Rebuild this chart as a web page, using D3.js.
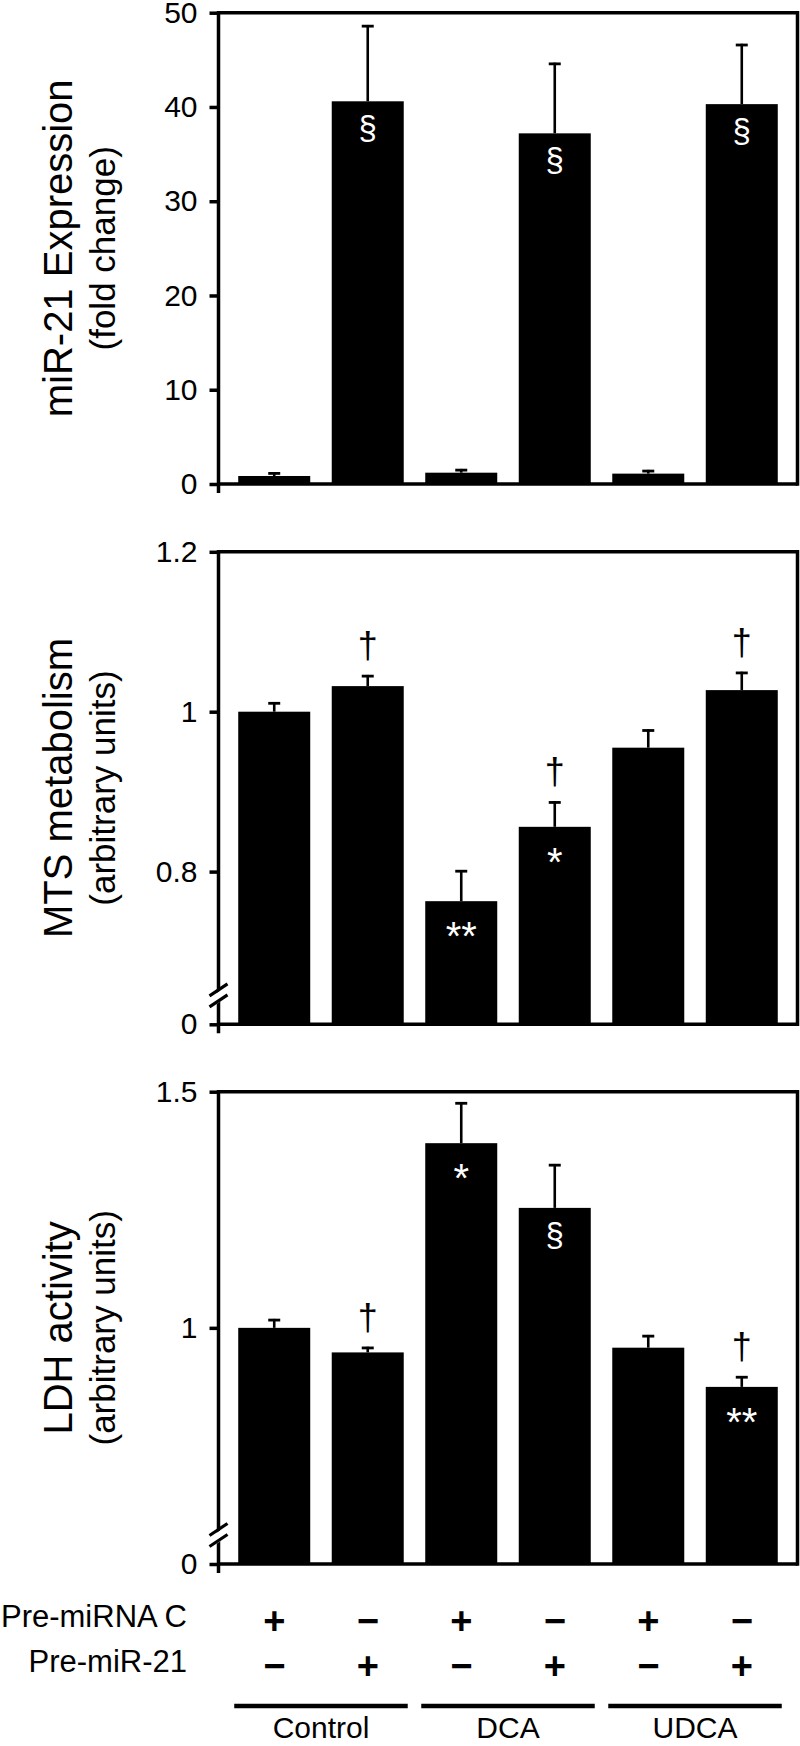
<!DOCTYPE html>
<html>
<head>
<meta charset="utf-8">
<script src="https://cdn.jsdelivr.net/npm/d3@7"></script>
<style>
  html, body { margin: 0; padding: 0; background: #fff; }
  svg { display: block; }
  text { font-family: "Liberation Sans", Arial, Helvetica, sans-serif; }
</style>
</head>
<body>
<svg id="chart" width="800" height="1746"></svg>
<script>
// ---------- data ----------
const categories = ["Control / pre-miRNA C", "Control / pre-miR-21", "DCA / pre-miRNA C", "DCA / pre-miR-21", "UDCA / pre-miRNA C", "UDCA / pre-miR-21"];
const groups = ["Control", "DCA", "UDCA"];
const preMiRNAC = ["+", "\u2212", "+", "\u2212", "+", "\u2212"];
const preMiR21 = ["\u2212", "+", "\u2212", "+", "\u2212", "+"];

const mirValues = [0.85, 40.6, 1.2, 37.2, 1.1, 40.3];
const mirErrors = [0.4, 8.1, 0.4, 7.5, 0.4, 6.4];
const mirInside = ["", "§", "", "§", "", "§"];
const mirAbove = ["", "", "", "", "", ""];
const mirTicks = [0, 10, 20, 30, 40, 50];

const mtsValues = [1.000, 1.032, 0.763, 0.856, 0.955, 1.027];
const mtsErrors = [0.012, 0.014, 0.039, 0.032, 0.023, 0.023];
const mtsInside = ["", "", "**", "*", "", ""];
const mtsAbove = ["", "†", "", "†", "", "†"];
const mtsTicks = [0, 0.8, 1, 1.2];

const ldhValues = [1.000, 0.948, 1.391, 1.254, 0.958, 0.875];
const ldhErrors = [0.019, 0.012, 0.087, 0.093, 0.027, 0.023];
const ldhInside = ["", "", "*", "§", "", "**"];
const ldhAbove = ["", "†", "", "", "", "†"];
const ldhTicks = [0, 1, 1.5];

// ---------- layout ----------
const svg = d3.select("#chart");
const xLeft = 218.5, xRight = 797.5;

const x = d3.scaleBand()
  .domain(categories)
  .range([xLeft, xRight])
  .paddingInner(0.23)
  .paddingOuter(0.211);

// broken axes: the bottom of the axis (labelled "0") stands for the floor value
const panels = [
  { title: "miR-21 Expression", sub: "(fold change)", values: mirValues, errors: mirErrors,
    inside: mirInside, above: mirAbove, ticks: mirTicks, broken: false, floor: 0,
    y: d3.scaleLinear().domain([0, 50]).range([484, 12.7]) },
  { title: "MTS metabolism", sub: "(arbitrary units)", values: mtsValues, errors: mtsErrors,
    inside: mtsInside, above: mtsAbove, ticks: mtsTicks, broken: true, floor: 0.609,
    y: d3.scaleLinear().domain([0.609, 1.2]).range([1024.3, 551.8]) },
  { title: "LDH activity", sub: "(arbitrary units)", values: ldhValues, errors: ldhErrors,
    inside: ldhInside, above: ldhAbove, ticks: ldhTicks, broken: true, floor: 0.5,
    y: d3.scaleLinear().domain([0.5, 1.5]).range([1564, 1091.7]) }
];

const LW = 3.5;

panels.forEach(p => {
  const g = svg.append("g");
  const y = p.y;
  const dom = y.domain();
  const yTop = y(dom[dom.length - 1]);
  const yZero = y(p.floor);

  // bars
  g.selectAll("rect.bar")
    .data(p.values)
    .join("rect")
    .attr("class", "bar")
    .attr("x", (d, i) => x(categories[i]))
    .attr("width", x.bandwidth())
    .attr("y", d => y(d))
    .attr("height", d => yZero - y(d))
    .attr("fill", "#000");

  // error bars (upper only)
  const cx = i => x(categories[i]) + x.bandwidth() / 2;
  g.selectAll("line.err")
    .data(p.values)
    .join("line")
    .attr("class", "err")
    .attr("x1", (d, i) => cx(i)).attr("x2", (d, i) => cx(i))
    .attr("y1", d => y(d))
    .attr("y2", (d, i) => y(d + p.errors[i]))
    .attr("stroke", "#000").attr("stroke-width", 2.6);
  g.selectAll("line.cap")
    .data(p.values)
    .join("line")
    .attr("class", "cap")
    .attr("x1", (d, i) => cx(i) - 6).attr("x2", (d, i) => cx(i) + 6)
    .attr("y1", (d, i) => y(d + p.errors[i]) + 1.2)
    .attr("y2", (d, i) => y(d + p.errors[i]) + 1.2)
    .attr("stroke", "#000").attr("stroke-width", 2.8);

  // marks inside bars
  g.selectAll("text.inside")
    .data(p.inside)
    .join("text")
    .attr("class", "inside")
    .attr("x", (d, i) => cx(i))
    .attr("y", (d, i) => y(p.values[i]) + (d === "§" ? 38 : 49))
    .attr("text-anchor", "middle")
    .attr("fill", "#fff")
    .attr("font-size", d => d === "§" ? 33 : 40)
    .text(d => d);

  // marks above error bars
  g.selectAll("text.above")
    .data(p.above)
    .join("text")
    .attr("class", "above")
    .attr("x", (d, i) => cx(i))
    .attr("y", (d, i) => y(p.values[i] + p.errors[i]) - 17)
    .attr("text-anchor", "middle")
    .attr("fill", "#000")
    .attr("font-size", 36)
    .text(d => d);

  // frame: top, right, bottom
  g.append("line").attr("x1", xLeft).attr("x2", xRight).attr("y1", yTop).attr("y2", yTop)
    .attr("stroke", "#000").attr("stroke-width", LW);
  g.append("line").attr("x1", xRight).attr("x2", xRight).attr("y1", yTop - LW / 2).attr("y2", yZero + LW / 2)
    .attr("stroke", "#000").attr("stroke-width", LW);
  g.append("line").attr("x1", xLeft).attr("x2", xRight).attr("y1", yZero).attr("y2", yZero)
    .attr("stroke", "#000").attr("stroke-width", LW);
  // left axis line extends slightly below zero
  g.append("line").attr("x1", xLeft).attr("x2", xLeft).attr("y1", yTop - LW / 2).attr("y2", yZero + 9)
    .attr("stroke", "#000").attr("stroke-width", LW);

  // y axis ticks and labels (tick "0" sits at the broken axis floor)
  const tickVals = p.ticks.map(t => (t === 0 ? p.floor : t));
  const axis = d3.axisLeft(y)
    .tickValues(tickVals)
    .tickSize(9)
    .tickSizeOuter(0)
    .tickPadding(12)
    .tickFormat(d => (d === p.floor ? "0" : String(d)));
  const ag = g.append("g").attr("transform", `translate(${xLeft},0)`).call(axis);
  ag.select(".domain").remove();
  ag.selectAll(".tick line").attr("stroke", "#000").attr("stroke-width", LW);
  ag.selectAll(".tick text").attr("font-size", 30).attr("fill", "#000")
    .style("font-family", '"Liberation Sans", Arial, sans-serif');

  // axis break marks
  if (p.broken) {
    const yb = yZero - 29;
    g.append("path")
      .attr("d", `M${xLeft - 8},${yb + 2} L${xLeft + 8},${yb - 9} L${xLeft + 8},${yb + 2} L${xLeft - 8},${yb + 13} Z`)
      .attr("fill", "#fff");
    [-1, 1].forEach(s => {
      g.append("line")
        .attr("x1", xLeft - 9).attr("y1", yb + 7 + s * 5.5 - 1)
        .attr("x2", xLeft + 9).attr("y2", yb - 5 + s * 5.5 - 1)
        .attr("stroke", "#000").attr("stroke-width", 3.2);
    });
  }

  // titles
  const cy = (yTop + yZero) / 2;
  svg.append("text")
    .attr("transform", `translate(72,${cy}) rotate(-90)`)
    .attr("text-anchor", "middle")
    .attr("font-size", 40)
    .attr("fill", "#000")
    .text(p.title);
  svg.append("text")
    .attr("transform", `translate(115,${cy}) rotate(-90)`)
    .attr("text-anchor", "middle")
    .attr("font-size", 35)
    .attr("fill", "#000")
    .text(p.sub);
});

// ---------- treatment table ----------
const tg = svg.append("g");
tg.append("text").attr("x", 187).attr("y", 1627).attr("text-anchor", "end")
  .attr("font-size", 31).text("Pre-miRNA C");
tg.append("text").attr("x", 187).attr("y", 1672).attr("text-anchor", "end")
  .attr("font-size", 31).text("Pre-miR-21");

const bcx = i => x(categories[i]) + x.bandwidth() / 2;
tg.selectAll("text.r1").data(preMiRNAC).join("text")
  .attr("class", "r1")
  .attr("x", (d, i) => bcx(i)).attr("y", 1634)
  .attr("text-anchor", "middle").attr("font-size", 38).attr("font-weight", "bold")
  .text(d => d);
tg.selectAll("text.r2").data(preMiR21).join("text")
  .attr("class", "r2")
  .attr("x", (d, i) => bcx(i)).attr("y", 1679)
  .attr("text-anchor", "middle").attr("font-size", 38).attr("font-weight", "bold")
  .text(d => d);

groups.forEach((gname, gi) => {
  const a = x(categories[gi * 2]) - 4;
  const b = x(categories[gi * 2 + 1]) + x.bandwidth() + 4;
  tg.append("line").attr("x1", a).attr("x2", b).attr("y1", 1706).attr("y2", 1706)
    .attr("stroke", "#000").attr("stroke-width", 4.5);
  tg.append("text").attr("x", (a + b) / 2).attr("y", 1738)
    .attr("text-anchor", "middle").attr("font-size", 30).text(gname);
});
</script>
</body>
</html>
